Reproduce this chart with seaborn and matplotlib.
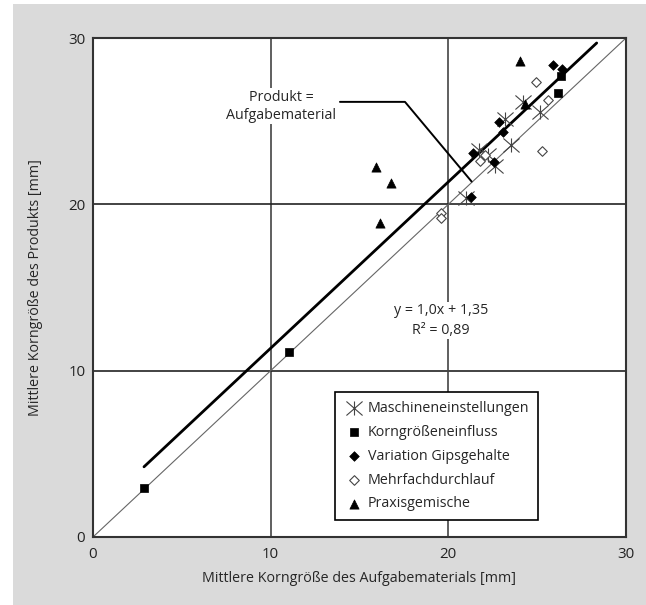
import matplotlib
matplotlib.use("Agg")
import matplotlib.pyplot as plt
import seaborn as sns
import numpy as np
import pandas as pd
from matplotlib.patches import Rectangle
from matplotlib.path import Path

# data (x = Aufgabematerial, y = Produkt, mm)
masch_x = [21.0, 21.7, 22.25, 22.6, 23.5, 23.2, 24.2, 25.15]
masch_y = [20.4, 23.27, 22.97, 22.3, 23.55, 25.12, 26.18, 25.57]

korn_x = [2.87, 11.05, 26.2, 26.35]
korn_y = [2.93, 11.1, 26.72, 27.72]

gips_x = [21.37, 22.58, 21.25, 22.85, 23.06, 25.9, 26.37]
gips_y = [23.11, 22.57, 20.46, 24.93, 24.33, 28.38, 28.12]

mehr_x = [19.58, 19.58, 21.78, 22.06, 24.91, 25.6, 25.25]
mehr_y = [19.5, 19.16, 22.63, 22.97, 27.34, 26.28, 23.2]

praxis_x = [15.91, 16.75, 16.17, 24.03, 24.31]
praxis_y = [22.27, 21.27, 18.9, 28.64, 26.04]

fit_slope = 1.0
fit_icpt = 1.35
fit_range = [2.87, 28.35]

series_names = ["Maschineneinstellungen", "Korngrößeneinfluss", "Variation Gipsgehalte",
                "Mehrfachdurchlauf", "Praxisgemische"]

sns.set_style("white")
plt.rcParams['font.family'] = ['Open Sans', 'DejaVu Sans']
FS = 10.3

# asterisk: X plus a vertical bar, a bit wider than tall
star = Path([(-1, -0.87), (1, 0.87), (-1, 0.87), (1, -0.87), (0, -0.87), (0, 0.87)],
            [Path.MOVETO, Path.LINETO, Path.MOVETO, Path.LINETO, Path.MOVETO, Path.LINETO])

fig = plt.figure(figsize=(6.46, 6.05), dpi=100)
fig.patches.append(Rectangle((13 / 646, 0), 1, (605 - 4) / 605, transform=fig.transFigure,
                             facecolor="#dadada", edgecolor="none", zorder=-10))
ax = fig.add_axes([93 / 646, (605 - 537) / 605, 533 / 646, 499 / 605])
ax.set_facecolor("white")

# grid lines at 10 and 20
for v in [10, 20]:
    ax.axvline(v, color="#444444", lw=1.2, zorder=1)
    ax.axhline(v, color="#222222", lw=1.2, zorder=1)

# Produkt = Aufgabematerial
ax.plot([0, 30], [0, 30], color="#666666", lw=0.8, zorder=2)
# regression line
fx = np.array(fit_range)
ax.plot(fx, fit_slope * fx + fit_icpt, color="black", lw=2, zorder=3)

sns.scatterplot(x=masch_x, y=masch_y, marker=star, s=135, color="#444444",
                edgecolor="#444444", linewidth=0.8, label=series_names[0], ax=ax, zorder=4)
sns.scatterplot(x=korn_x, y=korn_y, marker="s", s=30, color="black",
                edgecolor="black", linewidth=0.5, label=series_names[1], ax=ax, zorder=5)
sns.scatterplot(x=gips_x, y=gips_y, marker="D", s=24, color="black",
                edgecolor="black", linewidth=0.5, label=series_names[2], ax=ax, zorder=5)
sns.scatterplot(x=mehr_x, y=mehr_y, marker="D", s=24, color="white",
                edgecolor="#444444", linewidth=0.8, label=series_names[3], ax=ax, zorder=5)
sns.scatterplot(x=praxis_x, y=praxis_y, marker="^", s=44, color="black",
                edgecolor="black", linewidth=0.5, label=series_names[4], ax=ax, zorder=5)

# label for the identity line with leader
ax.text(10.6, 25.9, "Produkt =\nAufgabematerial", ha="center", va="center",
        fontsize=FS, linespacing=1.25, zorder=6,
        bbox=dict(facecolor="white", edgecolor="none", pad=1))
ax.plot([13.9, 17.56, 21.31], [26.16, 26.16, 21.37], color="black", lw=1.4, zorder=3)

ax.text(19.6, 13.02, "y = 1,0x + 1,35\nR² = 0,89", ha="center", va="center",
        fontsize=FS, linespacing=1.45, zorder=6,
        bbox=dict(facecolor="white", edgecolor="none", pad=1))

ax.set_xlim(0, 30)
ax.set_ylim(0, 30)
ax.set_xticks([0, 10, 20, 30])
ax.set_yticks([0, 10, 20, 30])
ax.tick_params(length=0, labelsize=10.8, colors="#222222")
ax.tick_params(axis="x", pad=7)
ax.tick_params(axis="y", pad=5.5)
for s in ax.spines.values():
    s.set_visible(True)
    s.set_color("#333333")
    s.set_linewidth(1.5)
ax.set_xlabel("Mittlere Korngröße des Aufgabematerials [mm]", fontsize=FS, va="center")
ax.set_ylabel("Mittlere Korngröße des Produkts [mm]", fontsize=FS, va="center")
ax.xaxis.set_label_coords(0.5, (537 - 579) / 499)
ax.yaxis.set_label_coords((36 - 93) / 533, 0.5)

leg = ax.legend(loc="lower left", bbox_to_anchor=(0.454, 0.034), fontsize=FS,
                frameon=True, fancybox=False, edgecolor="black", framealpha=1,
                borderpad=0.6, labelspacing=0.62, handletextpad=0.3, handlelength=1.4,
                borderaxespad=0)
leg.get_frame().set_linewidth(1.2)
leg.set_zorder(10)

fig.savefig("out.png", dpi=100)
